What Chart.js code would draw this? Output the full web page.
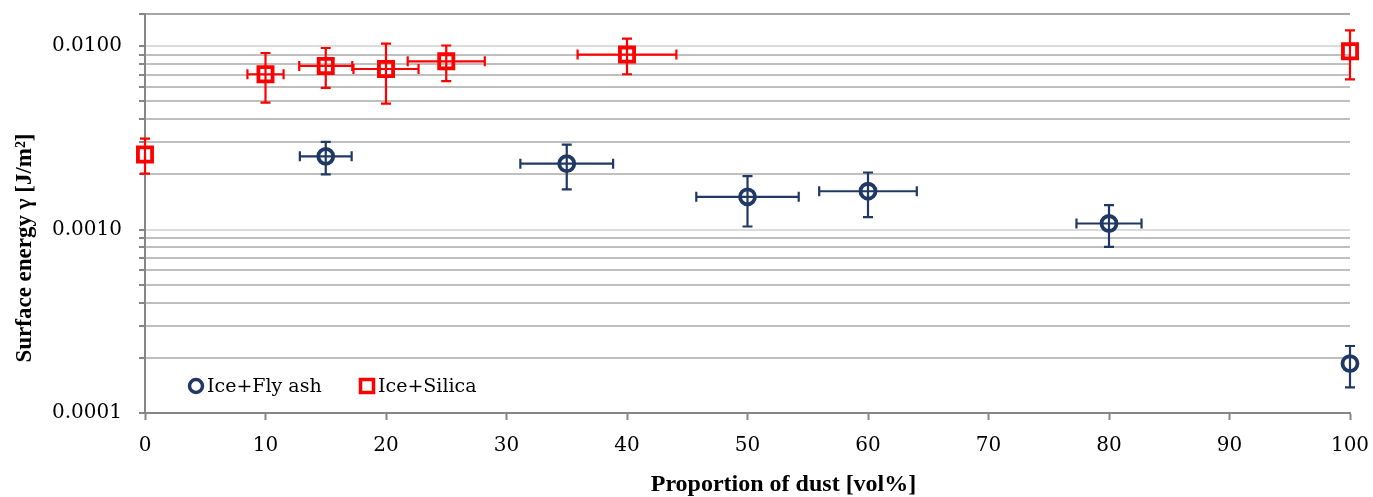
<!DOCTYPE html>
<html>
<head>
<meta charset="utf-8">
<script src="https://cdn.jsdelivr.net/npm/chart.js@4.4.0/dist/chart.umd.min.js"></script>
<style>
html, body { margin: 0; padding: 0; background: #fff; }
#wrap { width: 1373px; height: 497px; }
</style>
</head>
<body>
<div id="wrap"><canvas id="chart"></canvas></div>
<script>
// Ice + Fly ash
var flyAshX = [15, 35, 50, 60, 80, 100];
var flyAshY = [0.00251, 0.00229, 0.00151, 0.00162, 0.00108, 0.000186];
var flyAshYLow = [0.00200, 0.00166, 0.00104, 0.00117, 0.000805, 0.000138];
var flyAshYHigh = [0.00301, 0.00291, 0.00196, 0.00205, 0.00136, 0.000232];
var flyAshXErr = [2.15, 3.85, 4.25, 4.05, 2.7, 0];

// Ice + Silica
var silicaX = [0, 10, 15, 20, 25, 40, 100];
var silicaY = [0.00257, 0.00704, 0.00781, 0.00752, 0.00828, 0.00901, 0.0094];
var silicaYLow = [0.00202, 0.00493, 0.00593, 0.00487, 0.00645, 0.00704, 0.0066];
var silicaYHigh = [0.00314, 0.00919, 0.00979, 0.01035, 0.0101, 0.0110, 0.0122];
var silicaXErr = [0, 1.5, 2.2, 2.7, 3.2, 4.1, 0];

// axes
var yDecades = [0.0001, 0.001, 0.01];
var yDecadeLabels = ['0.0001', '0.0010', '0.0100'];
var yMinorSteps = [1, 2, 3, 4, 5, 6, 7, 8, 9];
var yMin = 0.0001;
var yMax = 0.015;

var navy = '#1F3864';
var red = '#FF0000';
var axisGray = '#868686';

var yTickValues = [];
yDecades.forEach(function(d) {
    yMinorSteps.forEach(function(m) {
        var v = +(d * m).toPrecision(6);
        if (v >= yMin && v < yMax) yTickValues.push(v);
    });
});
yTickValues.push(yMax);

function decadeIndex(value) {
    for (var i = 0; i < yDecades.length; i++) {
        if (Math.abs(value - yDecades[i]) / yDecades[i] < 1e-6) return i;
    }
    return -1;
}

function toPoints(xs, ys) {
    return xs.map(function(x, i) { return {x: x, y: ys[i]}; });
}

var errorBarPlugin = {
    id: 'errorBars',
    beforeDatasetsDraw: function(chart) {
        var ctx = chart.ctx;
        var xs = chart.scales.x;
        var ys = chart.scales.y;
        var cap = 5;
        chart.data.datasets.forEach(function(ds) {
            var e = ds.errorBars;
            if (!e) return;
            ctx.save();
            ctx.strokeStyle = ds.borderColor;
            ctx.lineWidth = 2.2;
            ds.data.forEach(function(p, i) {
                var px = xs.getPixelForValue(p.x);
                var py = ys.getPixelForValue(p.y);
                var lo = ys.getPixelForValue(e.yLow[i]);
                var hi = ys.getPixelForValue(e.yHigh[i]);
                ctx.beginPath();
                ctx.moveTo(px, lo); ctx.lineTo(px, hi);
                ctx.moveTo(px - cap, lo); ctx.lineTo(px + cap, lo);
                ctx.moveTo(px - cap, hi); ctx.lineTo(px + cap, hi);
                if (e.xErr[i] > 0) {
                    var l = xs.getPixelForValue(p.x - e.xErr[i]);
                    var r = xs.getPixelForValue(p.x + e.xErr[i]);
                    ctx.moveTo(l, py); ctx.lineTo(r, py);
                    ctx.moveTo(l, py - cap); ctx.lineTo(l, py + cap);
                    ctx.moveTo(r, py - cap); ctx.lineTo(r, py + cap);
                }
                ctx.stroke();
            });
            ctx.restore();
        });
    }
};

var insideLegendPlugin = {
    id: 'insideLegend',
    afterDatasetsDraw: function(chart) {
        var ctx = chart.ctx;
        var area = chart.chartArea;
        var y = area.bottom - 27;
        var x = area.left + 51;
        ctx.save();
        ctx.font = '19px "DejaVu Serif"';
        ctx.textBaseline = 'middle';
        ctx.fillStyle = '#000';
        chart.data.datasets.forEach(function(ds) {
            ctx.strokeStyle = ds.borderColor;
            ctx.lineWidth = 3.5;
            ctx.beginPath();
            if (ds.pointStyle === 'circle') {
                ctx.arc(x, y, 6.5, 0, Math.PI * 2);
            } else {
                ctx.rect(x - 6.5, y - 6.5, 13, 13);
            }
            ctx.stroke();
            ctx.fillText(ds.label, x + 11, y + 1);
            x += 171;
        });
        ctx.restore();
    }
};

Chart.defaults.font.family = '"DejaVu Serif", serif';
Chart.defaults.color = '#000';

new Chart(document.getElementById('chart'), {
    type: 'scatter',
    data: {
        datasets: [
            {
                label: 'Ice+Fly ash',
                data: toPoints(flyAshX, flyAshY),
                errorBars: {yLow: flyAshYLow, yHigh: flyAshYHigh, xErr: flyAshXErr},
                pointStyle: 'circle',
                pointRadius: 7.5,
                borderWidth: 3.8,
                borderColor: navy,
                backgroundColor: 'rgba(0,0,0,0)',
                clip: false
            },
            {
                label: 'Ice+Silica',
                data: toPoints(silicaX, silicaY),
                errorBars: {yLow: silicaYLow, yHigh: silicaYHigh, xErr: silicaXErr},
                pointStyle: 'rect',
                pointRadius: 10,
                borderWidth: 3.8,
                borderColor: red,
                backgroundColor: 'rgba(0,0,0,0)',
                clip: false
            }
        ]
    },
    options: {
        responsive: true,
        maintainAspectRatio: false,
        animation: false,
        layout: {padding: {top: 14, right: 23, left: 0, bottom: 0}},
        plugins: {
            legend: {display: false},
            tooltip: {enabled: false}
        },
        scales: {
            x: {
                type: 'linear',
                min: 0,
                max: 100,
                afterFit: function(scale) {
                    scale.height = 84;
                    scale.paddingLeft = 0;
                    scale.paddingRight = 0;
                },
                ticks: {stepSize: 10, padding: 14, font: {size: 20}},
                grid: {drawOnChartArea: false, tickLength: 7, tickColor: axisGray, tickWidth: 2},
                border: {color: axisGray, width: 2},
                title: {
                    display: true,
                    text: '\u2002\u2002\u2002\u2002\u2002\u2002Proportion of dust [vol%]',
                    font: {family: '"Liberation Serif", serif', size: 24, weight: 'bold'},
                    padding: {top: 0, bottom: -2}
                }
            },
            y: {
                type: 'logarithmic',
                min: yMin,
                max: yMax,
                afterFit: function(scale) {
                    scale.width = 145;
                    scale.paddingTop = 0;
                    scale.paddingBottom = 0;
                },
                afterBuildTicks: function(scale) {
                    scale.ticks = yTickValues.map(function(v) { return {value: v}; });
                },
                ticks: {
                    autoSkip: false,
                    padding: 17,
                    font: {size: 20},
                    callback: function(value) {
                        var i = decadeIndex(value);
                        return i >= 0 ? yDecadeLabels[i] : '';
                    }
                },
                grid: {
                    tickLength: 6,
                    tickColor: axisGray,
                    tickWidth: 2,
                    lineWidth: 2,
                    color: function(c) {
                        var v = c.tick ? c.tick.value : 0;
                        if (v === yMax) return '#A6A6A6';
                        return decadeIndex(v) >= 0 ? '#DCDCDC' : '#BFBFBF';
                    }
                },
                border: {color: axisGray, width: 2},
                title: {
                    display: true,
                    text: 'Surface energy \u03b3 [J/m\u00b2]\u2002\u2002\u2002\u2002\u2002\u2002',
                    font: {family: '"Liberation Serif", serif', size: 23, weight: 'bold'},
                    padding: {top: 11, bottom: 0}
                }
            }
        }
    },
    plugins: [errorBarPlugin, insideLegendPlugin]
});
</script>
</body>
</html>
